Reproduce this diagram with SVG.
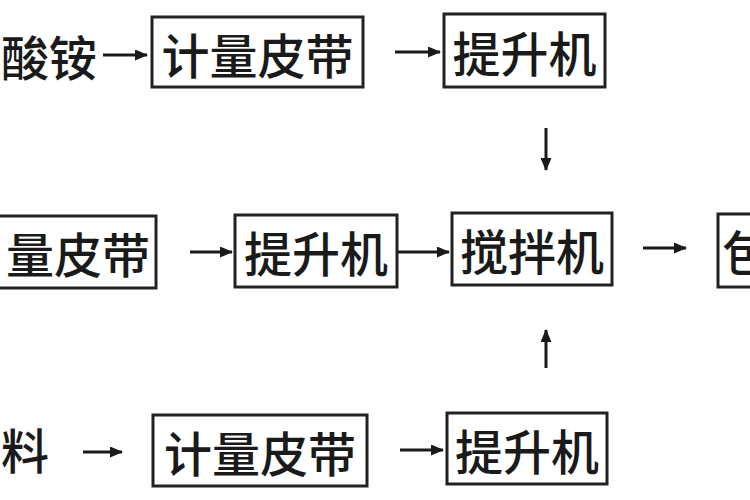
<svg xmlns="http://www.w3.org/2000/svg" width="750" height="500" viewBox="0 0 750 500">
<defs>
<marker id="ah" markerWidth="13" markerHeight="11" refX="12" refY="5.5" orient="auto" markerUnits="userSpaceOnUse" viewBox="0 0 13 11">
<path d="M0,0 L13,5.5 L0,11 z" fill="#1a1a1a"/>
</marker>
<style>
.box{fill:#fff;stroke:#222;stroke-width:3}
.t{font-family:"Noto Sans CJK SC","Noto Sans CJK JP",sans-serif;font-size:48px;font-weight:500;fill:#1a1a1a;dominant-baseline:central}
.c{stroke:#1a1a1a;stroke-width:3;fill:none;marker-end:url(#ah)}
</style>
</defs>
<rect width="750" height="500" fill="#fff"/>
<g id="src1"><text class="t" x="97" y="55" text-anchor="end">酸铵</text></g>
<g id="belt1"><rect class="box" x="152" y="17" width="211" height="70"/><text class="t" x="257.5" y="53" text-anchor="middle">计量皮带</text></g>
<g id="lift1"><rect class="box" x="444" y="14" width="161" height="73"/><text class="t" x="524.5" y="51" text-anchor="middle">提升机</text></g>
<g id="belt2"><rect class="box" x="-10" y="216" width="166" height="72"/><text class="t" x="150" y="252" text-anchor="end">量皮带</text></g>
<g id="lift2"><rect class="box" x="235" y="215" width="162" height="72"/><text class="t" x="316" y="251" text-anchor="middle">提升机</text></g>
<g id="mixer"><rect class="box" x="452" y="213" width="160" height="72"/><text class="t" x="532" y="249" text-anchor="middle">搅拌机</text></g>
<g id="pack"><rect class="box" x="718" y="214" width="50" height="73"/><text class="t" x="722" y="250">包</text></g>
<g id="src3"><text class="t" x="49" y="448" text-anchor="end">料</text></g>
<g id="belt3"><rect class="box" x="153" y="415" width="214" height="71"/><text class="t" x="260" y="451" text-anchor="middle">计量皮带</text></g>
<g id="lift3"><rect class="box" x="447" y="413" width="160" height="71"/><text class="t" x="527" y="449" text-anchor="middle">提升机</text></g>
<g id="connectors">
<line class="c" x1="103" y1="55" x2="147" y2="55"/>
<line class="c" x1="395" y1="52" x2="440" y2="52"/>
<line class="c" x1="546" y1="128" x2="546" y2="170"/>
<line class="c" x1="190" y1="252" x2="232" y2="252"/>
<line class="c" x1="398" y1="252" x2="449" y2="252"/>
<line class="c" x1="643" y1="248" x2="686" y2="248"/>
<line class="c" x1="546" y1="368" x2="546" y2="330"/>
<line class="c" x1="83" y1="452" x2="122" y2="452"/>
<line class="c" x1="400" y1="450" x2="443" y2="450"/>
</g>
</svg>
